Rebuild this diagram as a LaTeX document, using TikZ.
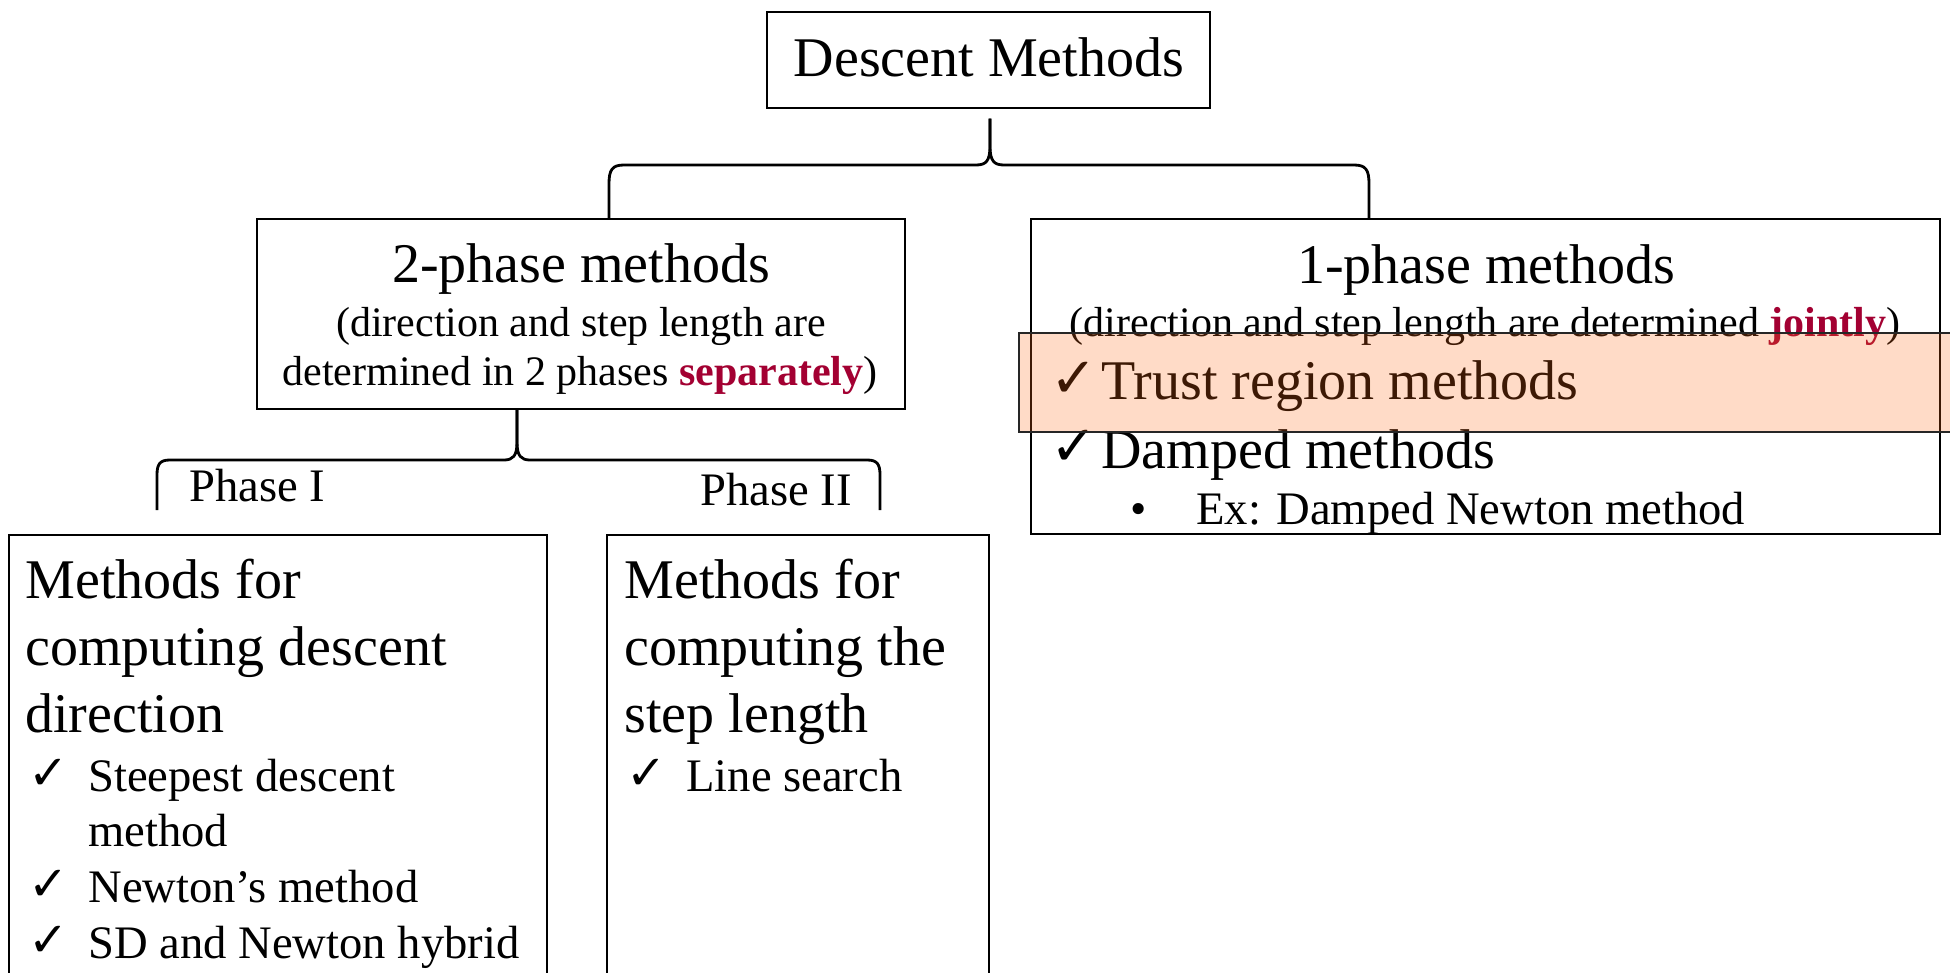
\documentclass[tikz,border=0pt]{standalone}
\usepackage{fontspec}
\setmainfont{Liberation Serif}
\newfontfamily\symf{DejaVu Sans}
\usetikzlibrary{calc}
\definecolor{accent}{RGB}{163,0,50}
\definecolor{hl}{RGB}{255,106,21}
\begin{document}
\begin{tikzpicture}[x=0.5pt,y=-0.5pt,
  box/.style={draw=black, line width=0.7pt, inner sep=0, fill=none},
  brk/.style={draw=black, line width=1.4pt, line join=round},
  big/.style={inner sep=0, font=\fontsize{28}{33}\selectfont},
  mid/.style={inner sep=0, font=\fontsize{21}{25}\selectfont},
  sml/.style={inner sep=0, font=\fontsize{23.3}{28}\selectfont},
  bigchk/.style={inner sep=0, font=\symf\fontsize{28}{33}\selectfont},
  smlchk/.style={inner sep=0, font=\symf\fontsize{24}{28}\selectfont}]
\useasboundingbox[fill=white] (0,0) rectangle (1950,973);
\begin{scope}
\clip (0,0) rectangle (1950,973);
\node[box, minimum width=221.5pt, minimum height=48pt] (top) at (988.5,60) {};
\node[box, minimum width=324pt, minimum height=95pt] (two) at (581,314) {};
\node[box, minimum width=454.5pt, minimum height=157.5pt] (one) at (1485.5,376.5) {};
\node[box, minimum width=269pt, minimum height=232.5pt] (p1) at (278,767.5) {};
\node[box, minimum width=191pt, minimum height=232.5pt] (p2) at (798,767.5) {};
\end{scope}

% top bracket
\coordinate (b1P) at ($(top.south)+(1.5,10)$);
\coordinate (b1L) at (609,219);
\coordinate (b1R) at (1369,219);
\draw[brk] (b1L) -- (609,184) .. controls (609,170) and (612,165) .. (624,165)
  -- (976,165) .. controls (986,165) and (990,161) .. (990,146) -- (b1P);
\draw[brk] (b1P) -- (990,146) .. controls (990,161) and (994,165) .. (1004,165)
  -- (1354,165) .. controls (1366,165) and (1369,170) .. (1369,184) -- (b1R);

% second bracket
\coordinate (b2P) at (517,409);
\coordinate (b2L) at (157,510);
\coordinate (b2R) at (880,510);
\draw[brk] (b2L) -- (157,475) .. controls (157,464) and (160,460) .. (170,460)
  -- (504,460) .. controls (513,460) and (517,456) .. (517,442) -- (b2P);
\draw[brk] (b2P) -- (517,442) .. controls (517,456) and (521,460) .. (530,460)
  -- (867,460) .. controls (877,460) and (880,464) .. (880,475) -- (b2R);

% texts
\node[big, anchor=base] (t0) at (989,77) {Descent Methods};

\node[big, anchor=base] (t2a) at (581,283) {2-phase methods};
\node[mid, anchor=base] (t2b) at (581,336) {(direction and step length are};
\node[mid, anchor=base] (t2c) at (580,386) {determined in 2 phases \textbf{\textcolor{accent}{separately}})};

\node[big, anchor=base] (t1a) at (1486,284) {1-phase methods};
\node[mid, anchor=base] (t1b) at (1485,336) {(direction and step length are determined \textbf{\textcolor{accent}{jointly}})};
\node[bigchk, anchor=base west] (c1) at (1050,398) {✓};
\node[big, anchor=base west] (t1c) at (1101,400) {Trust region methods};
\node[bigchk, anchor=base west] (c2) at (1050,466) {✓};
\node[big, anchor=base west] (t1d) at (1101,468) {Damped methods};
\node[sml, anchor=base] (bu) at (1139,524) {•};
\node[sml, anchor=base west] (t1e) at (1196,524) {Ex: Damped Newton method};

\node[sml, anchor=base west] (ph1) at (189,501) {Phase I};
\node[sml, anchor=base west] (ph2) at (700,505) {Phase II};

\node[big, anchor=base west] (a1) at (25,598) {Methods for};
\node[big, anchor=base west] (a2) at (25,665) {computing descent};
\node[big, anchor=base west] (a3) at (25,732) {direction};
\node[smlchk, anchor=base west] (ac1) at (28,789) {✓};
\node[sml, anchor=base west] (a4) at (88,791) {Steepest descent};
\node[sml, anchor=base west] (a5) at (88,846) {method};
\node[smlchk, anchor=base west] (ac2) at (28,900) {✓};
\node[sml, anchor=base west] (a6) at (88,902) {Newton’s method};
\node[smlchk, anchor=base west] (ac3) at (28,956) {✓};
\node[sml, anchor=base west] (a7) at (88,958) {SD and Newton hybrid};

\node[big, anchor=base west] (b1) at (624,598) {Methods for};
\node[big, anchor=base west] (b2) at (624,665) {computing the};
\node[big, anchor=base west] (b3) at (624,732) {step length};
\node[smlchk, anchor=base west] (bc1) at (626,789) {✓};
\node[sml, anchor=base west] (b4) at (686,791) {Line search};

% highlight overlay
\begin{scope}
\clip (0,0) rectangle (1950,973);
\node[draw=black!85, line width=0.7pt, fill=hl, fill opacity=0.24, draw opacity=1,
  inner sep=0, minimum width=470.5pt, minimum height=49.5pt] (hlbox) at (1489.5,382.5) {};
\end{scope}
\end{tikzpicture}
\end{document}
